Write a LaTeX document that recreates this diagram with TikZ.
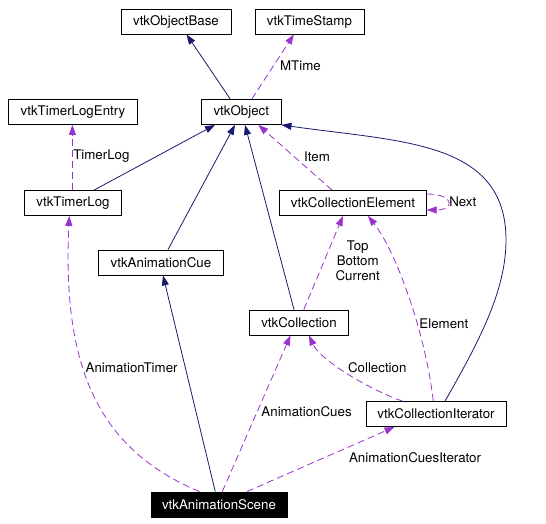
\documentclass[tikz,border=0pt]{standalone}
\usepackage{fontspec}
\setmainfont{TeX Gyre Heros}
\usepackage{tikz}
\usetikzlibrary{arrows.meta}
\definecolor{navy}{HTML}{191970}
\definecolor{orchid}{HTML}{9A32CD}

\begin{document}
\begin{tikzpicture}[x=1pt,y=-1pt]
  \tikzstyle{cls}=[draw, line width=0.8pt, minimum height=25pt, inner xsep=0pt, font=\fontsize{13.3}{14.7}\selectfont]
  \tikzstyle{inherit}=[-{Triangle[length=10pt,width=7pt]}, color=navy, line width=0.8pt]
  \tikzstyle{uses}=[-{Triangle[length=10pt,width=7pt]}, color=orchid, line width=0.8pt, dash pattern=on 7pt off 4pt]
  \tikzstyle{lbl}=[text=black, inner sep=0pt, font=\fontsize{13.3}{14.7}\selectfont]
  \useasboundingbox (0,0) rectangle (546,524);
  \foreach \n/\x/\y/\w/\t in {objbase/176/21.5/110/vtkObjectBase, timestamp/309.4/21.5/109/vtkTimeStamp,
      tlentry/73/112/129.5/vtkTimerLogEntry, obj/241.3/112/79.5/vtkObject, timerlog/73/203/97/vtkTimerLog,
      celem/353/203/146.5/vtkCollectionElement, cue/161/262.5/124.6/vtkAnimationCue,
      coll/299/322.5/98.7/vtkCollection, iter/436/414/140/vtkCollectionIterator} {
    \node[cls, minimum width=\w pt] (\n) at (\x,\y) {\t};
  }
  \node[cls, fill=black, text=white, minimum width=136pt] (scene) at (219,504.5) {vtkAnimationScene};
  \foreach \a/\sa/\b/\sb in {obj/-11/objbase/10.5, timerlog/21/obj/-26.3, cue/7/obj/-6.3, coll/-5/obj/3.7, scene/-3.7/cue/2} {
    \draw[inherit] ([xshift=\sa pt]\a.north) -- ([xshift=\sb pt]\b.south);
  }
  \draw[inherit] ([xshift=9pt]iter.north) .. controls (480,340) and (506,290) .. (506,240)
    .. controls (506,140) and (400,142) .. (obj.south east);
  % usage links
  \draw[uses] ([xshift=10.5pt]obj.north) -- node[lbl, pos=0.52, anchor=west, xshift=6pt] {MTime} ([xshift=-15.5pt]timestamp.south);
  \draw[uses] ([xshift=-0.6pt]timerlog.north) -- node[lbl, pos=0.52, anchor=west, xshift=0.5pt] {TimerLog} ([xshift=-0.6pt]tlentry.south);
  \draw[uses] ([xshift=-21pt]celem.north) -- node[lbl, pos=0.51, anchor=west, xshift=9.4pt] {Item} ([xshift=17pt]obj.south);
  \draw[uses] ([yshift=9pt]celem.east) .. controls (455,194) and (455,210) .. ([yshift=-7pt]celem.east)
    node[lbl, pos=0.5, anchor=west, xshift=1pt] {Next};
  \draw[uses] ([xshift=4.8pt]coll.north) -- node[lbl, pos=0.52, anchor=west, xshift=11pt, align=center] {Top\\Bottom\\Current} ([xshift=-10pt]celem.south);
  \draw[uses] ([xshift=-2.7pt]iter.north) .. controls (425,330) and (395,250) .. ([xshift=15pt]celem.south)
    node[lbl, pos=0.36, anchor=west, xshift=2pt] {Element};
  \draw[uses] ([xshift=-33.5pt]iter.north) .. controls (370,390) and (320,360) .. ([xshift=10pt]coll.south)
    node[lbl, pos=0.5, anchor=south west] {Collection};
  \draw[uses] ([xshift=-19.5pt]scene.north) .. controls (100,450) and (62,370) .. ([xshift=-3.7pt]timerlog.south)
    node[lbl, pos=0.6, anchor=west, xshift=2pt] {AnimationTimer};
  \draw[uses] ([xshift=3.3pt]scene.north) -- node[lbl, pos=0.51, anchor=west, xshift=4pt] {AnimationCues} ([xshift=-8.5pt]coll.south);
  \draw[uses] ([xshift=27.8pt]scene.north) -- node[lbl, pos=0.69, anchor=north west, yshift=-5pt] {AnimationCuesIterator} ([xshift=-41.5pt]iter.south);
\end{tikzpicture}
\end{document}
